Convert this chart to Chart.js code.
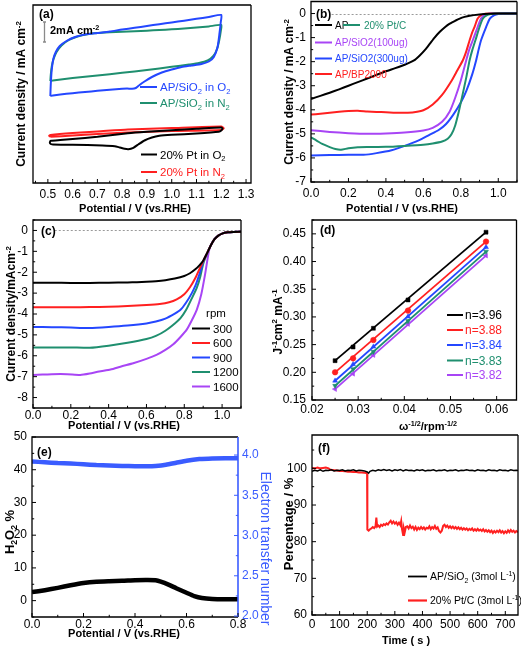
<!DOCTYPE html>
<html><head><meta charset="utf-8">
<script src="https://cdn.jsdelivr.net/npm/chart.js@4/dist/chart.umd.min.js"></script>
<style>
html,body{margin:0;padding:0;background:#fff;}
#wrap{position:relative;width:521px;height:649px;overflow:hidden;background:#fff;}
canvas{position:absolute;left:0;top:0;}
</style></head><body><div id="wrap">
<canvas id="ca" width="521" height="649"></canvas>
<canvas id="cb" width="521" height="649"></canvas>
<canvas id="cc" width="521" height="649"></canvas>
<canvas id="cd" width="521" height="649"></canvas>
<canvas id="ce" width="521" height="649"></canvas>
<canvas id="cf" width="521" height="649"></canvas>
</div>
<script>
// ---------------- DATA ----------------
// (a) cyclic voltammograms (y in mA cm-2, arbitrary offset; scale bar = 2 mA cm-2)
const aXTicks = ['0.5','0.6','0.7','0.8','0.9','1.0','1.1','1.2','1.3'];
const aSiO2_O2 = [[0.51,8.7],[0.512,10.0],[0.516,11.4],[0.522,12.4],[0.532,13.1],[0.548,13.7],[0.575,14.2],[0.61,14.6],[0.65,14.85],[0.7,15.0],[0.75,15.15],[0.8,15.35],[0.85,15.52],[0.9,15.7],[0.95,15.88],[1.0,16.05],[1.05,16.23],[1.1,16.42],[1.15,16.6],[1.2,16.8],[1.198,16.1],[1.193,15.0],[1.185,13.6],[1.17,12.6],[1.15,12.15],[1.12,11.9],[1.08,11.75],[1.04,11.6],[1.0,11.35],[0.96,11.05],[0.92,10.6],[0.89,10.15],[0.87,9.8],[0.855,9.5],[0.84,9.42],[0.82,9.45],[0.8,9.42],[0.75,9.32],[0.7,9.22],[0.65,9.1],[0.6,8.98],[0.55,8.85],[0.52,8.75],[0.51,8.7]];
const aSiO2_N2 = [[0.51,10.2],[0.512,10.9],[0.516,11.7],[0.523,12.4],[0.535,13.1],[0.555,13.75],[0.585,14.3],[0.62,14.65],[0.66,14.88],[0.7,15.0],[0.75,15.07],[0.8,15.12],[0.85,15.17],[0.9,15.23],[0.95,15.3],[1.0,15.37],[1.05,15.45],[1.1,15.55],[1.15,15.66],[1.2,15.8],[1.198,15.2],[1.192,14.3],[1.183,13.4],[1.168,12.7],[1.145,12.25],[1.11,12.0],[1.07,11.85],[1.0,11.62],[0.9,11.3],[0.8,11.02],[0.7,10.75],[0.6,10.5],[0.52,10.25],[0.51,10.2]];
const aPt_O2 = [[0.51,3.9],[0.508,4.05],[0.512,4.22],[0.55,4.3],[0.6,4.4],[0.7,4.62],[0.823,4.97],[0.9,5.12],[1.0,5.28],[1.1,5.42],[1.2,5.55],[1.205,5.45],[1.2,5.25],[1.19,5.12],[1.1,4.95],[1.0,4.82],[0.95,4.72],[0.92,4.55],[0.89,4.25],[0.865,3.85],[0.845,3.52],[0.825,3.38],[0.81,3.42],[0.79,3.55],[0.77,3.68],[0.72,3.75],[0.6,3.82],[0.52,3.85],[0.51,3.9]];
const aPt_N2 = [[0.51,4.62],[0.505,4.72],[0.51,4.8],[0.6,5.0],[0.7,5.15],[0.823,5.35],[1.0,5.5],[1.2,5.65],[1.21,5.48],[1.2,5.3],[1.0,5.2],[0.82,5.05],[0.7,4.9],[0.6,4.75],[0.51,4.62]];

// (b) LSV curves
const bXTicks = ['0.0','0.2','0.4','0.6','0.8','1.0'];
const bYTicks = ['0','-1','-2','-3','-4','-5','-6','-7'];
const bAP = [[0,-3.55],[0.05,-3.42],[0.1,-3.29],[0.15,-3.15],[0.2,-3.0],[0.25,-2.85],[0.3,-2.7],[0.35,-2.55],[0.4,-2.4],[0.45,-2.27],[0.5,-2.13],[0.55,-1.95],[0.582,-1.73],[0.61,-1.5],[0.635,-1.25],[0.66,-1.0],[0.688,-0.76],[0.715,-0.57],[0.741,-0.42],[0.77,-0.3],[0.794,-0.21],[0.82,-0.14],[0.847,-0.09],[0.9,-0.04],[0.95,-0.01],[1.0,0],[1.1,0]];
const bPtC = [[0,-5.15],[0.03,-5.28],[0.06,-5.42],[0.1,-5.55],[0.13,-5.63],[0.16,-5.66],[0.2,-5.6],[0.25,-5.56],[0.3,-5.55],[0.4,-5.54],[0.5,-5.5],[0.6,-5.45],[0.65,-5.4],[0.7,-5.32],[0.73,-5.2],[0.75,-5.02],[0.77,-4.65],[0.79,-4.05],[0.81,-3.35],[0.83,-2.62],[0.847,-1.94],[0.862,-1.5],[0.878,-1.11],[0.9,-0.56],[0.918,-0.21],[0.94,-0.07],[0.96,-0.02],[0.98,0],[1.1,0]];
const bSiO2_100 = [[0,-4.85],[0.1,-4.92],[0.2,-4.97],[0.3,-5.0],[0.4,-4.98],[0.5,-4.94],[0.6,-4.86],[0.65,-4.75],[0.7,-4.5],[0.74,-4.08],[0.77,-3.5],[0.8,-2.78],[0.829,-1.94],[0.845,-1.5],[0.864,-1.11],[0.89,-0.56],[0.908,-0.21],[0.926,-0.07],[0.95,-0.01],[0.97,0],[1.1,0]];
const bSiO2_300 = [[0,-5.9],[0.1,-5.88],[0.2,-5.87],[0.28,-5.87],[0.35,-5.8],[0.43,-5.68],[0.5,-5.5],[0.575,-5.27],[0.63,-5.05],[0.68,-4.85],[0.72,-4.6],[0.76,-4.2],[0.8,-3.7],[0.83,-3.2],[0.86,-2.55],[0.882,-1.94],[0.895,-1.5],[0.908,-1.11],[0.935,-0.56],[0.955,-0.21],[0.979,-0.07],[1.0,-0.02],[1.03,0],[1.1,0]];
const bBP2000 = [[0,-4.2],[0.05,-4.16],[0.1,-4.12],[0.15,-4.08],[0.2,-4.05],[0.25,-4.04],[0.3,-4.07],[0.35,-4.09],[0.4,-4.1],[0.45,-4.12],[0.5,-4.12],[0.55,-4.1],[0.6,-4.02],[0.65,-3.78],[0.7,-3.38],[0.75,-2.8],[0.78,-2.38],[0.811,-1.94],[0.83,-1.55],[0.847,-1.11],[0.86,-0.8],[0.873,-0.56],[0.89,-0.21],[0.908,-0.07],[0.93,-0.01],[0.96,0],[1.1,0]];

// (c) rotating speeds
const cYTicks = ['0','-1','-2','-3','-4','-5','-6','-7','-8'];
const rpmLabels = ['300','600','900','1200','1600'];
const c300 = [[0,-2.5],[0.1,-2.5],[0.2,-2.51],[0.3,-2.51],[0.4,-2.5],[0.5,-2.49],[0.55,-2.48],[0.6,-2.46],[0.65,-2.43],[0.7,-2.38],[0.75,-2.3],[0.8,-2.18],[0.83,-2.05],[0.86,-1.85],[0.88,-1.67],[0.9,-1.45],[0.92,-1.1],[0.94,-0.72],[0.96,-0.42],[0.98,-0.25],[1.0,-0.15],[1.03,-0.09],[1.06,-0.07],[1.1,-0.06]];
const c600 = [[0,-3.68],[0.1,-3.68],[0.2,-3.68],[0.3,-3.67],[0.4,-3.65],[0.5,-3.62],[0.6,-3.57],[0.67,-3.52],[0.72,-3.44],[0.76,-3.3],[0.8,-3.05],[0.83,-2.72],[0.86,-2.25],[0.88,-1.85],[0.9,-1.47],[0.92,-1.1],[0.94,-0.72],[0.96,-0.42],[0.98,-0.25],[1.0,-0.15],[1.03,-0.09],[1.06,-0.07],[1.1,-0.06]];
const c900 = [[0,-4.62],[0.1,-4.63],[0.2,-4.65],[0.3,-4.67],[0.4,-4.62],[0.5,-4.55],[0.6,-4.45],[0.65,-4.36],[0.7,-4.22],[0.75,-3.98],[0.78,-3.8],[0.81,-3.45],[0.84,-3.0],[0.86,-2.62],[0.88,-2.1],[0.9,-1.5],[0.92,-1.1],[0.94,-0.72],[0.96,-0.42],[0.98,-0.25],[1.0,-0.15],[1.03,-0.09],[1.06,-0.07],[1.1,-0.06]];
const c1200 = [[0,-5.6],[0.1,-5.6],[0.2,-5.6],[0.3,-5.62],[0.4,-5.52],[0.5,-5.38],[0.6,-5.2],[0.65,-5.05],[0.7,-4.8],[0.75,-4.45],[0.78,-4.2],[0.81,-3.8],[0.84,-3.25],[0.866,-2.75],[0.885,-2.2],[0.9,-1.6],[0.92,-1.12],[0.94,-0.72],[0.96,-0.42],[0.98,-0.25],[1.0,-0.15],[1.03,-0.09],[1.06,-0.07],[1.1,-0.06]];
const c1600 = [[0,-6.92],[0.05,-6.9],[0.1,-6.88],[0.18,-6.88],[0.25,-6.92],[0.3,-6.85],[0.35,-6.75],[0.41,-6.66],[0.47,-6.5],[0.53,-6.36],[0.6,-6.15],[0.653,-5.96],[0.7,-5.72],[0.742,-5.45],[0.78,-5.1],[0.813,-4.75],[0.84,-4.3],[0.866,-3.8],[0.89,-3.05],[0.91,-2.1],[0.93,-1.0],[0.94,-0.72],[0.96,-0.42],[0.98,-0.25],[1.0,-0.15],[1.03,-0.09],[1.06,-0.07],[1.1,-0.06]];

// (d) Koutecky-Levich
const dXTicks = ['0.02','0.03','0.04','0.05','0.06'];
const dYTicks = ['0.15','0.20','0.25','0.30','0.35','0.40','0.45'];
const dOmega = [0.025,0.0289,0.0333,0.0408,0.0577];
const dN396 = [0.221,0.2457,0.2795,0.3307,0.453];
const dN388 = [0.200,0.2252,0.2583,0.3114,0.436];
const dN384 = [0.1848,0.2144,0.2462,0.3005,0.426];
const dN383 = [0.1757,0.2059,0.2372,0.2927,0.418];
const dN382 = [0.1697,0.1974,0.2312,0.2873,0.4108];
const dLabels = ['n=3.96','n=3.88','n=3.84','n=3.83','n=3.82'];

// (e) H2O2 yield and electron transfer number
const eXTicks = ['0.0','0.2','0.4','0.6','0.8'];
const eYTicks = ['0','10','20','30','40','50'];
const eY2Ticks = ['2.0','2.5','3.0','3.5','4.0'];
const eH2O2 = [[0,2.6],[0.05,3.2],[0.1,3.9],[0.15,4.7],[0.2,5.4],[0.25,5.8],[0.3,5.95],[0.35,6.05],[0.4,6.25],[0.45,6.3],[0.48,6.2],[0.5,5.8],[0.53,4.9],[0.56,3.8],[0.6,2.4],[0.63,1.4],[0.66,0.8],[0.7,0.5],[0.75,0.4],[0.8,0.4]];
const eN = [[0,3.92],[0.05,3.91],[0.1,3.9],[0.15,3.895],[0.2,3.885],[0.25,3.875],[0.3,3.87],[0.35,3.865],[0.4,3.86],[0.45,3.86],[0.48,3.865],[0.52,3.88],[0.56,3.905],[0.6,3.93],[0.65,3.95],[0.7,3.958],[0.75,3.96],[0.8,3.96]];

// (f) methanol tolerance
const fXTicks = ['0','100','200','300','400','500','600','700'];
const fYTicks = ['60','70','80','90','100'];
const fSiO2 = [[0,99.2],[10,99.5],[20,99.3],[30,99.6],[40,99.2],[50,99.5],[60,99.4],[70,99.6],[80,99.3],[90,99.5],[100,99.4],[110,99.6],[120,99.3],[130,99.5],[140,99.4],[150,99.6],[160,99.3],[170,99.5],[180,99.4],[190,99.3],[200,99.0],[205,98.7],[210,99.2],[220,99.5],[230,99.3],[240,99.6],[250,99.4],[260,99.7],[270,99.4],[280,99.6],[290,99.3],[300,99.6],[310,99.4],[320,99.7],[330,99.3],[340,99.6],[350,99.4],[360,99.5],[370,99.3],[380,99.6],[390,99.4],[400,99.6],[410,99.3],[420,99.5],[430,99.4],[440,99.6],[450,99.3],[460,99.5],[470,99.4],[480,99.6],[490,99.3],[500,99.5],[510,99.4],[520,99.6],[530,99.3],[540,99.5],[550,99.4],[560,99.6],[570,99.4],[580,99.5],[590,99.3],[600,99.6],[610,99.4],[620,99.5],[630,99.3],[640,99.6],[650,99.4],[660,99.5],[670,99.3],[680,99.6],[690,99.4],[700,99.5],[710,99.3],[720,99.6],[730,99.4],[740,99.5],[746,99.4]];
const fPtC = [[0,100.1],[10,100.0],[20,100.2],[30,100.0],[40,100.1],[50,100.2],[60,100.0],[65,99.7],[70,99.6],[80,99.5],[90,99.4],[100,99.3],[110,99.3],[120,99.2],[130,99.1],[140,99.1],[150,99.0],[160,99.0],[170,98.9],[180,98.9],[190,98.8],[197,98.7],[199.5,98.5],[200.5,83.3],[205,83.0],[210,83.4],[215,83.6],[220,84.0],[225,83.7],[230,84.2],[233,86.6],[236,84.1],[240,84.4],[245,84.0],[250,84.6],[255,84.3],[260,84.8],[265,84.5],[270,85.0],[275,84.7],[280,85.3],[285,85.7],[290,85.0],[295,85.5],[300,84.9],[305,85.3],[310,84.6],[315,85.2],[320,84.5],[323,85.6],[326,83.4],[330,81.8],[333,83.5],[336,82.6],[340,84.0],[345,84.2],[350,83.6],[355,84.4],[360,83.7],[365,84.1],[370,83.3],[375,84.0],[380,83.2],[385,83.8],[390,83.4],[395,84.0],[400,83.5],[405,83.9],[410,83.3],[415,83.8],[420,83.6],[425,84.2],[430,83.4],[435,84.0],[440,83.6],[445,84.3],[450,83.5],[455,83.9],[460,82.9],[465,82.5],[470,83.0],[475,84.3],[480,84.6],[485,84.0],[490,84.4],[495,83.8],[500,84.2],[505,83.7],[510,84.1],[515,83.6],[520,84.0],[525,83.5],[530,83.9],[535,83.4],[540,83.8],[545,83.3],[550,83.7],[555,83.3],[560,83.6],[565,83.1],[570,83.5],[575,83.2],[580,83.6],[585,83.0],[590,83.4],[595,83.0],[600,83.5],[605,83.0],[610,83.3],[615,82.9],[620,83.4],[625,82.8],[630,83.2],[635,82.7],[640,83.1],[645,82.6],[650,83.0],[655,82.4],[660,82.9],[665,82.5],[670,83.0],[675,82.6],[680,83.1],[685,82.5],[690,82.9],[695,82.3],[700,82.8],[705,82.4],[710,83.1],[715,82.6],[720,83.2],[725,82.7],[730,83.0],[735,82.5],[740,82.9],[746,82.6]];

// ---------------- STYLE ----------------
const W = 521, H = 649;
const FONT = "'Liberation Sans', Arial, Helvetica, sans-serif";
const BLUE = '#2447ff', GREEN = '#1f8f6f', RED = '#ff2020', PURPLE = '#a845f5', BLACK = '#000000', BLUE2 = '#3a5cff';

function drawRich(ctx, parts, x, y, o) {
  ctx.save();
  ctx.translate(x, y);
  if (o.rot) ctx.rotate(o.rot * Math.PI / 180);
  const wt = o.weight || 'normal';
  let w = 0;
  const segs = parts.map(p => {
    const t = typeof p === 'string' ? p : p[0];
    const k = typeof p === 'string' ? '' : p[1];
    const s = k ? o.size * 0.66 : o.size;
    ctx.font = `${wt} ${s}px ${FONT}`;
    const m = ctx.measureText(t).width;
    w += m;
    return { t, k, s, m };
  });
  let cx = o.align === 'center' ? -w / 2 : (o.align === 'right' ? -w : 0);
  ctx.fillStyle = o.color || '#000';
  ctx.textBaseline = 'alphabetic';
  ctx.textAlign = 'left';
  const base = o.size * 0.36;
  for (const g of segs) {
    ctx.font = `${wt} ${g.s}px ${FONT}`;
    const dy = g.k === 'sup' ? -o.size * 0.4 : (g.k === 'sub' ? o.size * 0.22 : 0);
    ctx.fillText(g.t, cx, base + dy);
    cx += g.m;
  }
  ctx.restore();
}

function minorVals(major, min, max) {
  const m = major.slice().sort((a, b) => a - b);
  const st = Math.abs(m[1] - m[0]);
  const out = [];
  if (!(st > 0)) return out;
  for (let k = 0; k < 200; k++) {
    const v = m[0] - st / 2 + k * st;
    if (v > max + 1e-9) break;
    if (v >= min - 1e-9) out.push(v);
  }
  return out;
}

// axis whose box exactly fills the space between the canvas edge and the plot frame
function axis(pos, min, max, labels, size, o = {}) {
  const vals = labels.map(Number);
  const a = {
    type: 'linear', position: pos, min, max,
    grid: { display: false, drawTicks: false }, border: { display: false },
    ticks: { display: labels.length > 0, padding: o.pad ?? 4, color: o.color || '#000',
      font: { family: FONT, size: o.fsize || 12 }, autoSkip: false, maxRotation: 0, minRotation: 0,
      callback: (v, i) => labels[i] },
    afterFit: (s) => { if (pos === 'bottom' || pos === 'top') s.height = size; else s.width = size;
      s.paddingLeft = s.paddingRight = s.paddingTop = s.paddingBottom = 0; }
  };
  if (labels.length) a.afterBuildTicks = (s) => { s.ticks = vals.map(v => ({ value: v })); };
  return a;
}

function line(data, color, width, extra = {}) {
  return Object.assign({ data, borderColor: color, backgroundColor: color, showLine: true,
    borderWidth: width, pointRadius: 0, tension: 0.2, fill: false }, extra);
}

function decoPlugin(d) {
  return {
    id: 'deco',
    beforeDatasetsDraw(chart) {
      const ctx = chart.ctx, ca = chart.chartArea;
      (d.hlines || []).forEach(h => {
        const sx = chart.scales.x, sy = chart.scales.y;
        const y = Math.round(sy.getPixelForValue(h.y)) + 0.5;
        ctx.save(); ctx.strokeStyle = '#9a9a9a'; ctx.lineWidth = 1; ctx.setLineDash([2, 2]);
        ctx.beginPath(); ctx.moveTo(sx.getPixelForValue(h.from), y); ctx.lineTo(ca.right, y); ctx.stroke(); ctx.restore();
      });
    },
    afterDraw(chart) {
      const ctx = chart.ctx, ca = chart.chartArea;
      ctx.save();
      ctx.lineWidth = 1.3;
      ctx.strokeStyle = '#000';
      ctx.beginPath();
      ctx.moveTo(ca.right, ca.top); ctx.lineTo(ca.left, ca.top); ctx.lineTo(ca.left, ca.bottom); ctx.lineTo(ca.right, ca.bottom);
      if (!d.rightColor) ctx.lineTo(ca.right, ca.top);
      ctx.stroke();
      if (d.rightColor) {
        ctx.strokeStyle = d.rightColor; ctx.lineWidth = 1.6;
        ctx.beginPath(); ctx.moveTo(ca.right, ca.top); ctx.lineTo(ca.right, ca.bottom); ctx.stroke();
      }
      (d.ticks || []).forEach(t => {
        const sc = chart.scales[t.id];
        const maj = t.major.map(Number);
        const mins = minorVals(maj, sc.min, sc.max);
        ctx.strokeStyle = t.color || '#000'; ctx.lineWidth = 1;
        const draw = (v, len) => {
          const p = sc.getPixelForValue(v);
          ctx.beginPath();
          if (t.side === 'bottom') { ctx.moveTo(p, ca.bottom); ctx.lineTo(p, ca.bottom - len); }
          else if (t.side === 'left') { ctx.moveTo(ca.left, p); ctx.lineTo(ca.left + len, p); }
          else if (t.side === 'right') { ctx.moveTo(ca.right, p); ctx.lineTo(ca.right - len, p); }
          ctx.stroke();
        };
        maj.forEach(v => { if (v >= sc.min - 1e-9 && v <= sc.max + 1e-9) draw(v, 4); });
        mins.forEach(v => draw(v, 2.2));
      });
      (d.legend || []).forEach(l => {
        if (l.x2) {
          ctx.strokeStyle = l.color; ctx.lineWidth = l.lw || 2;
          ctx.beginPath(); ctx.moveTo(l.x1, l.y); ctx.lineTo(l.x2, l.y); ctx.stroke();
        }
        drawRich(ctx, l.parts, l.tx, l.y, { size: l.size, color: l.tcolor || '#000', weight: l.weight });
      });
      (d.texts || []).forEach(t => drawRich(ctx, t.parts, t.x, t.y, t));
      if (d.extra) d.extra(ctx, chart);
      ctx.restore();
    }
  };
}

// rect = plot frame in page pixels; axes fill the margins (left / bottom / optional right)
function panel(id, rect, scales, datasets, deco, hasRight) {
  return new Chart(document.getElementById(id), {
    type: 'scatter',
    data: { datasets },
    options: {
      responsive: false, animation: false, devicePixelRatio: 1,
      layout: { padding: { left: 0, top: rect.t, right: hasRight ? 0 : W - rect.r, bottom: 0 } },
      plugins: { legend: { display: false }, tooltip: { enabled: false } },
      scales,
      elements: { point: { radius: 0 } }
    },
    plugins: [decoPlugin(deco)]
  });
}

const potTitle = ['Potential / V (vs.RHE)'];

// ---------------- (a) ----------------
const RA = { l: 33, t: 5, r: 251, b: 183 };
panel('ca', RA, {
  x: axis('bottom', 0.44, 1.32, aXTicks, H - RA.b, { pad: 4 }),
  y: axis('left', 0, 17.8, [], RA.l)
}, [
  line(aSiO2_O2, BLUE, 2),
  line(aSiO2_N2, GREEN, 2),
  line(aPt_O2, BLACK, 2),
  line(aPt_N2, RED, 2)
], {
  ticks: [{ id: 'x', side: 'bottom', major: aXTicks }],
  legend: [
    { x1: 140, x2: 157, y: 87, color: BLUE, tx: 160, parts: ['AP/SiO', ['2', 'sub'], ' in O', ['2', 'sub']], tcolor: BLUE, size: 11.5 },
    { x1: 140, x2: 157, y: 103, color: GREEN, tx: 160, parts: ['AP/SiO', ['2', 'sub'], ' in N', ['2', 'sub']], tcolor: GREEN, size: 11.5 },
    { x1: 141, x2: 157, y: 154.5, color: BLACK, tx: 160, parts: ['20% Pt in O', ['2', 'sub']], tcolor: BLACK, size: 11.5 },
    { x1: 141, x2: 157, y: 172, color: RED, tx: 160, parts: ['20% Pt in N', ['2', 'sub']], tcolor: RED, size: 11.5 }
  ],
  texts: [
    { parts: ['(a)'], x: 39, y: 14, size: 12, weight: 'bold' },
    { parts: ['2mA cm', ['-2', 'sup']], x: 50, y: 30, size: 11, weight: 'bold' },
    { parts: ['Current density / mA cm', ['-2', 'sup']], x: 21, y: 94, size: 12, weight: 'bold', align: 'center', rot: -90 },
    { parts: potTitle, x: 135, y: 208, size: 11, weight: 'bold', align: 'center' }
  ],
  extra: (ctx) => {
    ctx.strokeStyle = '#8a8a8a'; ctx.lineWidth = 1.3;
    ctx.beginPath(); ctx.moveTo(44.5, 22); ctx.lineTo(44.5, 42);
    ctx.moveTo(43, 22); ctx.lineTo(46, 22); ctx.moveTo(43, 42); ctx.lineTo(46, 42); ctx.stroke();
  }
});

// ---------------- (b) ----------------
const RB = { l: 311, t: 1.5, r: 517, b: 182 };
panel('cb', RB, {
  x: axis('bottom', 0, 1.1, bXTicks, H - RB.b, { pad: 4 }),
  y: axis('left', -7, 0.5, bYTicks, RB.l, { pad: 5 })
}, [
  line(bAP, BLACK, 2),
  line(bPtC, GREEN, 2),
  line(bSiO2_100, PURPLE, 2),
  line(bSiO2_300, BLUE, 2),
  line(bBP2000, RED, 2)
], {
  hlines: [{ y: 0, from: 0.11 }],
  ticks: [{ id: 'x', side: 'bottom', major: bXTicks }, { id: 'y', side: 'left', major: bYTicks }],
  legend: [
    { x1: 315, x2: 332, y: 25, color: BLACK, tx: 335, parts: ['AP'], tcolor: BLACK, size: 10 },
    { x1: 343, x2: 360, y: 25, color: GREEN, tx: 364, parts: ['20% Pt/C'], tcolor: GREEN, size: 10 },
    { x1: 315, x2: 332, y: 42.5, color: PURPLE, tx: 335, parts: ['AP/SiO2(100ug)'], tcolor: PURPLE, size: 10 },
    { x1: 315, x2: 332, y: 58.5, color: BLUE, tx: 335, parts: ['AP/SiO2(300ug)'], tcolor: BLUE, size: 10 },
    { x1: 315, x2: 332, y: 74, color: RED, tx: 335, parts: ['AP/BP2000'], tcolor: RED, size: 10 }
  ],
  texts: [
    { parts: ['(b)'], x: 316, y: 13.5, size: 12, weight: 'bold' },
    { parts: ['Current density / mA cm', ['-2', 'sup']], x: 289, y: 92, size: 12, weight: 'bold', align: 'center', rot: -90 },
    { parts: potTitle, x: 402, y: 208, size: 11, weight: 'bold', align: 'center' }
  ]
});

// ---------------- (c) ----------------
const cColors = [BLACK, RED, BLUE, GREEN, PURPLE];
const cRows = [328.5, 343, 357.5, 372, 386.5];
const RC = { l: 33, t: 220, r: 241, b: 408 };
panel('cc', RC, {
  x: axis('bottom', 0, 1.1, bXTicks, H - RC.b, { pad: 0 }),
  y: axis('left', -8.5, 0.5, cYTicks, RC.l, { pad: 5 })
}, [
  line(c300, BLACK, 2),
  line(c600, RED, 2),
  line(c900, BLUE, 2),
  line(c1200, GREEN, 2),
  line(c1600, PURPLE, 2)
], {
  hlines: [{ y: 0, from: 0.115 }],
  ticks: [{ id: 'x', side: 'bottom', major: bXTicks }, { id: 'y', side: 'left', major: cYTicks }],
  legend: rpmLabels.map((r, i) => ({ x1: 192, x2: 210, y: cRows[i], color: cColors[i], tx: 213, parts: [r], tcolor: BLACK, size: 11.5 })),
  texts: [
    { parts: ['(c)'], x: 41, y: 230.5, size: 12, weight: 'bold' },
    { parts: ['rpm'], x: 216, y: 313, size: 11.5, align: 'center' },
    { parts: ['Current density/mAcm', ['-2', 'sup']], x: 11, y: 314, size: 12, weight: 'bold', align: 'center', rot: -90 },
    { parts: potTitle, x: 124, y: 425.5, size: 11, weight: 'bold', align: 'center' }
  ]
});

// ---------------- (d) ----------------
const dSeries = [dN396, dN388, dN384, dN383, dN382];
const dColors = [BLACK, RED, BLUE, GREEN, PURPLE];
const dStyles = [['rect', 0], ['circle', 0], ['triangle', 0], ['triangle', 180], ['triangle', -90]];
const dRows = [315, 330, 345, 360.5, 375];
const dDatasets = [];
dSeries.forEach((ys, i) => {
  const pts = dOmega.map((x, j) => [x, ys[j]]);
  dDatasets.push(line([pts[0], pts[pts.length - 1]], dColors[i], 1.8, { tension: 0 }));
  dDatasets.push({ data: pts, showLine: false, pointRadius: 2.8, pointStyle: dStyles[i][0], rotation: dStyles[i][1],
    backgroundColor: dColors[i], borderColor: dColors[i], borderWidth: 0.5 });
});
const RD = { l: 312, t: 220, r: 517, b: 400 };
panel('cd', RD, {
  x: axis('bottom', 0.02, 0.0643, dXTicks, H - RD.b, { pad: 2 }),
  y: axis('left', 0.15, 0.475, dYTicks, RD.l, { pad: 6 })
}, dDatasets, {
  ticks: [{ id: 'x', side: 'bottom', major: dXTicks }, { id: 'y', side: 'left', major: dYTicks }],
  legend: dLabels.map((t, i) => ({ x1: 447, x2: 463, y: dRows[i], color: dColors[i], tx: 465, parts: [t], tcolor: dColors[i], size: 12 })),
  texts: [
    { parts: ['(d)'], x: 320, y: 230, size: 12, weight: 'bold' },
    { parts: ['J', ['-1', 'sup'], 'cm', ['2', 'sup'], ' mA', ['-1', 'sup']], x: 277.5, y: 322, size: 12, weight: 'bold', align: 'center', rot: -90 },
    { parts: ['ω', ['-1/2', 'sup'], '/rpm', ['-1/2', 'sup']], x: 428, y: 426, size: 11, weight: 'bold', align: 'center' }
  ]
});

// ---------------- (e) ----------------
const RE = { l: 32, t: 437, r: 238, b: 617 };
panel('ce', RE, {
  x: axis('bottom', 0, 0.8, eXTicks, H - RE.b, { pad: 0 }),
  y: axis('left', -5, 50, eYTicks, RE.l, { pad: 5 }),
  y2: axis('right', 1.988, 4.224, eY2Ticks, W - RE.r, { pad: 4, color: BLUE2 })
}, [
  line(eH2O2, BLACK, 4.5, { yAxisID: 'y' }),
  line(eN, BLUE2, 4.5, { yAxisID: 'y2' })
], {
  rightColor: BLUE2,
  ticks: [{ id: 'x', side: 'bottom', major: eXTicks }, { id: 'y', side: 'left', major: eYTicks },
          { id: 'y2', side: 'right', major: eY2Ticks, color: BLUE2 }],
  texts: [
    { parts: ['(e)'], x: 37, y: 452, size: 12, weight: 'bold' },
    { parts: ['H', ['2', 'sub'], 'O', ['2', 'sub'], ' %'], x: 9, y: 532, size: 13, weight: 'bold', align: 'center', rot: -90 },
    { parts: ['Electron transfer number'], x: 266, y: 548.5, size: 14, color: BLUE2, align: 'center', rot: 90 },
    { parts: potTitle, x: 124, y: 633, size: 11, weight: 'bold', align: 'center' }
  ]
}, true);

// ---------------- (f) ----------------
const RF = { l: 312, t: 435, r: 518, b: 615 };
panel('cf', RF, {
  x: axis('bottom', 0, 746, fXTicks, H - RF.b, { pad: 2 }),
  y: axis('left', 60, 109.1, fYTicks, RF.l, { pad: 5 })
}, [
  line(fSiO2, BLACK, 1.5, { tension: 0 }),
  line(fPtC, RED, 2, { tension: 0 })
], {
  ticks: [{ id: 'x', side: 'bottom', major: fXTicks }, { id: 'y', side: 'left', major: fYTicks }],
  legend: [
    { x1: 408, x2: 427, y: 576.5, color: BLACK, lw: 1.8, tx: 430, parts: ['AP/SiO', ['2', 'sub'], ' (3mol L', ['-1', 'sup'], ')'], tcolor: BLACK, size: 10.5 },
    { x1: 408, x2: 427, y: 600.5, color: RED, lw: 2.2, tx: 430, parts: ['20% Pt/C (3mol L', ['-1', 'sup'], ')'], tcolor: BLACK, size: 10.5 }
  ],
  texts: [
    { parts: ['(f)'], x: 318, y: 448, size: 12, weight: 'bold' },
    { parts: ['Percentage / %'], x: 288, y: 524, size: 13, weight: 'bold', align: 'center', rot: -90 },
    { parts: ['Time ( s )'], x: 406, y: 640, size: 11, weight: 'bold', align: 'center' }
  ]
});
</script></body></html>
